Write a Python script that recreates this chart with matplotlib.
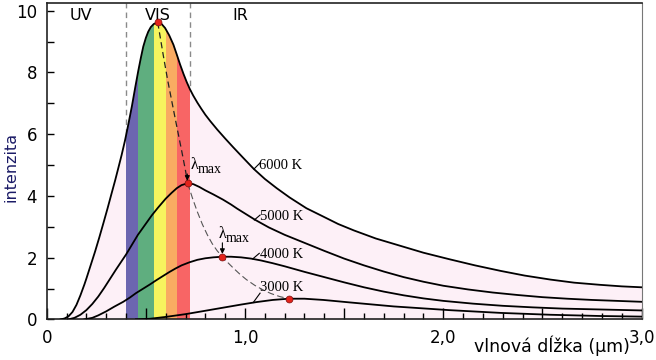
import numpy as np
import matplotlib.pyplot as plt
from matplotlib.ticker import MultipleLocator, FixedLocator

# values (wavelength in um, intensity)
x6000 = [0.07, 0.09, 0.11, 0.13, 0.15, 0.17, 0.19, 0.20, 0.22, 0.244, 0.265, 0.286,
         0.307, 0.328, 0.345, 0.361, 0.378, 0.395, 0.412, 0.43, 0.446, 0.462, 0.475,
         0.487, 0.50, 0.512, 0.525, 0.54, 0.56, 0.578, 0.597, 0.618, 0.639, 0.656,
         0.672, 0.69, 0.706, 0.722, 0.739, 0.76, 0.78, 0.80, 0.824, 0.86, 0.90, 0.94,
         0.99, 1.045, 1.10, 1.16, 1.225, 1.31, 1.395, 1.47, 1.55, 1.66, 1.78, 1.9,
         2.03, 2.16, 2.29, 2.41, 2.54, 2.66, 2.79, 2.9, 3.0]
y6000 = [0.0, 0.03, 0.10, 0.24, 0.47, 0.78, 1.13, 1.32, 1.72, 2.2, 2.65, 3.12,
         3.6, 4.1, 4.5, 4.9, 5.33, 5.8, 6.33, 6.92, 7.5, 8.06, 8.48,
         8.84, 9.12, 9.32, 9.47, 9.57, 9.62, 9.58, 9.44, 9.2, 8.9, 8.58,
         8.27, 7.95, 7.69, 7.46, 7.25, 7.02, 6.82, 6.63, 6.43, 6.15, 5.86, 5.58,
         5.24, 4.87, 4.55, 4.25, 3.95, 3.6, 3.33, 3.09, 2.88, 2.62, 2.39, 2.16,
         1.95, 1.75, 1.57, 1.42, 1.29, 1.19, 1.12, 1.07, 1.04]

x5000 = [0.11, 0.14, 0.17, 0.20, 0.23, 0.26, 0.29, 0.32, 0.35, 0.40, 0.43, 0.46,
         0.50, 0.53, 0.56, 0.60, 0.63, 0.656, 0.68, 0.711, 0.74, 0.77, 0.80, 0.84,
         0.889, 0.93, 0.96, 1.0, 1.05, 1.12, 1.2, 1.3, 1.4, 1.5, 1.6, 1.7, 1.8,
         1.9, 2.0, 2.125, 2.25, 2.375, 2.5, 2.625, 2.75, 2.875, 3.0]
y5000 = [0.0, 0.05, 0.15, 0.30, 0.50, 0.74, 1.02, 1.32, 1.62, 2.1, 2.42, 2.74,
         3.1, 3.37, 3.61, 3.91, 4.10, 4.25, 4.35, 4.41, 4.38, 4.29, 4.18, 4.05,
         3.88, 3.72, 3.59, 3.43, 3.23, 2.98, 2.74, 2.48, 2.22, 1.97, 1.75, 1.55, 1.37,
         1.22, 1.09, 0.97, 0.87, 0.79, 0.72, 0.67, 0.63, 0.60, 0.57]

x4000 = [0.19, 0.23, 0.26, 0.30, 0.34, 0.386, 0.42, 0.45, 0.49, 0.52, 0.553, 0.59,
         0.62, 0.65, 0.68, 0.72, 0.76, 0.80, 0.84, 0.886, 0.93, 0.98, 1.03, 1.08,
         1.14, 1.2, 1.3, 1.4, 1.5, 1.6, 1.7, 1.8, 1.9, 2.0, 2.15, 2.3, 2.45, 2.6,
         2.8, 3.0]
y4000 = [0.0, 0.05, 0.13, 0.26, 0.41, 0.57, 0.71, 0.85, 1.01, 1.13, 1.27, 1.42,
         1.54, 1.65, 1.75, 1.85, 1.93, 1.98, 2.01, 2.03, 2.03, 2.01, 1.97, 1.91,
         1.82, 1.72, 1.54, 1.37, 1.20, 1.04, 0.90, 0.78, 0.68, 0.60, 0.51, 0.44, 0.39, 0.35,
         0.32, 0.29]

x3000 = [0.45, 0.52, 0.6, 0.7, 0.8, 0.89, 0.98, 1.057, 1.14, 1.22, 1.3, 1.395,
         1.528, 1.75, 2.03, 2.29, 2.54, 2.79, 3.0]
y3000 = [0.0, 0.02, 0.08, 0.17, 0.28, 0.38, 0.48, 0.56, 0.63, 0.67, 0.67, 0.63,
         0.55, 0.42, 0.30, 0.21, 0.15, 0.11, 0.09]

# peaks and the dashed line joining them
peak_x = [0.56, 0.711, 0.886, 1.22]
peak_y = [9.62, 4.41, 2.03, 0.67]
wien_x = [0.56, 0.588, 0.61, 0.639, 0.66, 0.681, 0.70, 0.711, 0.735, 0.76, 0.785,
          0.81, 0.835, 0.86, 0.886, 0.915, 0.94, 0.975, 1.007, 1.05, 1.09, 1.13,
          1.175, 1.22]
wien_y = [9.62, 8.55, 7.75, 6.8, 6.12, 5.45, 4.82, 4.41, 3.93, 3.48, 3.08,
          2.74, 2.45, 2.22, 2.03, 1.83, 1.67, 1.46, 1.29, 1.1, 0.96, 0.84,
          0.74, 0.67]

# visible bands
band_edges = [0.400, 0.462, 0.543, 0.602, 0.659, 0.723]
band_colors = ["#6c66b0", "#5fae7f", "#f7f45e", "#f9ab62", "#f86565"]

temps = ["6000 K", "5000 K", "4000 K", "3000 K"]
label_xy = [(1.18, 5.0), (1.185, 3.32), (1.185, 2.09), (1.187, 1.02)]
leaders = [((1.045, 4.87), (1.076, 5.07)), ((1.047, 3.22), (1.076, 3.38)),
           ((1.039, 1.96), (1.072, 2.14)), ((1.042, 0.55), (1.076, 0.85))]

fig = plt.figure(figsize=(6.56, 3.6), dpi=100)
ax = fig.add_axes([0.0712, 0.1128, 0.9068, 0.8789])
ax.set_xlim(0, 3.0)
ax.set_ylim(0, 10.25)

# pink area under 6000 K and colour bands clipped by it
fill = ax.fill_between(x6000, y6000, color="#fdf0f7", lw=0, zorder=1)
clip = fill.get_paths()[0]
for a, b, c in zip(band_edges[:-1], band_edges[1:], band_colors):
    r = ax.axvspan(a, b, color=c, lw=0, zorder=1.5)
    r.set_clip_path(clip, ax.transData)

for xv in (band_edges[0], band_edges[-1]):
    ax.axvline(xv, color="#8a8a8a", lw=1, ls=(0, (4, 3)), zorder=0.5)

for xs, ys in [(x6000, y6000), (x5000, y5000), (x4000, y4000), (x3000, y3000)]:
    ax.plot(xs, ys, color="black", lw=1.3, zorder=3, solid_joinstyle="round")

ax.plot(wien_x[:8], wien_y[:8], color="#222222", lw=0.9, ls=(0, (5, 3)), zorder=4)
ax.plot(wien_x[7:], wien_y[7:], color="#555555", lw=0.8, ls=(0, (6, 3)), zorder=4)
ax.plot(peak_x, peak_y, "o", color="#e3231b", mec="#7a1010", mew=0.5, ms=5, zorder=5)

for t, (lx, ly), (p0, p1) in zip(temps, label_xy, leaders):
    ax.text(lx, ly, t, family="Liberation Serif", fontsize=10.5,
            ha="center", va="center", zorder=6)
    ax.plot([p0[0], p1[0]], [p0[1], p1[1]], color="black", lw=0.8, zorder=6)

# lambda max labels with arrows
for (lx, ly), (mx, my), (ax0, y0, y1) in [
        ((0.726, 4.86), (0.762, 4.73), (0.709, 4.71, 4.49)),
        ((0.869, 2.63), (0.904, 2.51), (0.886, 2.48, 2.12))]:
    ax.text(lx, ly, "λ", family="Liberation Serif", fontsize=11.5, zorder=6)
    ax.text(mx, my, "max", family="Liberation Serif", fontsize=10, zorder=6)
    ax.annotate("", xy=(ax0, y1), xytext=(ax0, y0),
                arrowprops=dict(arrowstyle="-|>", color="black", lw=0.8,
                                mutation_scale=7, shrinkA=0, shrinkB=0), zorder=6)

ax.text(0.173, 9.85, "UV", fontsize=11.5, ha="center", va="center")
ax.text(0.558, 9.85, "VIS", fontsize=11.5, ha="center", va="center")
ax.text(0.975, 9.85, "IR", fontsize=11.5, ha="center", va="center")

ax.xaxis.set_major_locator(FixedLocator([0, 0.5, 1, 1.5, 2, 2.5, 3]))
ax.set_xticklabels(["0", "", "1,0", "", "2,0", "", "3,0"])
ax.xaxis.set_minor_locator(MultipleLocator(0.1))
ax.yaxis.set_major_locator(MultipleLocator(2))
ax.yaxis.set_minor_locator(MultipleLocator(1))
ax.tick_params(axis="x", which="major", direction="in", length=8, width=1,
               labelsize=12, pad=7)
ax.tick_params(axis="x", which="minor", direction="in", length=4, width=1)
ax.tick_params(axis="y", which="both", direction="in", length=5, width=1,
               labelsize=12, pad=7)

for s in ["left", "bottom", "top"]:
    ax.spines[s].set_color("#222222")
    ax.spines[s].set_linewidth(1.2)
ax.spines["right"].set_color("#777777")

fig.text(0.0165, 0.535, "intenzita", rotation=90, fontsize=11.5, color="#1a1a66",
         ha="center", va="center")
fig.text(551.7 / 656, 1 - 346 / 360, "vlnová dĺžka (μm)", fontsize=12.5,
         ha="center", va="center")

fig.savefig("out.png", dpi=100)
